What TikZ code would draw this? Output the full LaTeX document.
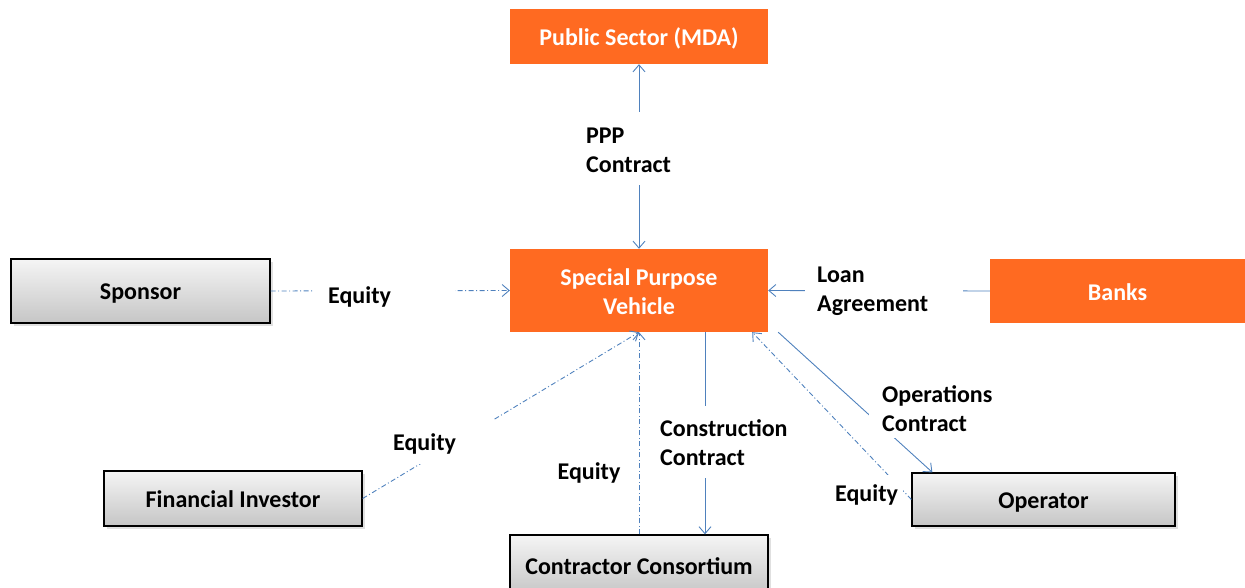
\documentclass[tikz,border=0pt]{standalone}
\usepackage{fontspec}
\setmainfont{Carlito}
\usetikzlibrary{arrows.meta,shadows}
\definecolor{orng}{HTML}{FF6A21}
\definecolor{lnblue}{HTML}{4F81BD}
\newcommand{\mystrut}{\rule[-3pt]{0pt}{24pt}}
\begin{document}
\begin{tikzpicture}[x=1pt,y=-1pt,
  every node/.style={font=\fontsize{24}{29}\selectfont\bfseries},
  >={Straight Barb[length=7pt,width=12pt]},
  orangebox/.style={fill=orng,text=white,inner sep=0pt,align=center},
  graybox/.style={draw=black,line width=1.3pt,top color=gray!8,bottom color=gray!45,
    drop shadow={shadow xshift=2.5pt,shadow yshift=-2.5pt,fill=gray!40,opacity=0.6},inner sep=0pt},
  conn/.style={draw=lnblue,line width=0.9pt,->},
  dashdot/.style={dash pattern=on 5pt off 2.5pt on 1pt off 2.5pt},
  lbl/.style={fill=white,inner ysep=0pt,align=left}]
\clip (0,0) rectangle (1245,588);
% boxes
\node[orangebox,minimum width=258pt,minimum height=55pt] (ps) at (639,36.5) {\mystrut Public Sector (MDA)};
\node[orangebox,minimum width=258pt,minimum height=83pt] (spv) at (639,290.5) {\mystrut Special Purpose\\\mystrut Vehicle};
\node[orangebox,minimum width=255pt,minimum height=64pt] (bk) at (1117.5,291) {\mystrut Banks};
\node[graybox,minimum width=259pt,minimum height=64pt] (sp) at (140.5,291) {\mystrut Sponsor};
\node[graybox,minimum width=258pt,minimum height=55pt] (fi) at (233,498.5) {\mystrut Financial Investor};
\node[graybox,minimum width=258pt,minimum height=60pt] (cc) at (639,565) {\mystrut Contractor Consortium};
\node[graybox,minimum width=263pt,minimum height=53pt] (op) at (1043.5,499.5) {\mystrut Operator};
% connectors
\draw[conn,<->] (spv.north) -- (ps.south);
\draw[conn,dashdot] (sp.east) -- (spv.west);
\draw[conn] (bk.west) -- (spv.east);
\draw[conn,dashdot] (fi.east) -- (spv.south);
\draw[conn,dashdot] (cc.north) -- (spv.south);
\draw[conn] ([xshift=66pt]spv.south) -- ([xshift=66pt]cc.north);
\draw[conn] ([xshift=10pt]spv.south east) -- ([xshift=21pt]op.north west);
\draw[conn,dashdot] (op.west) -- ([xshift=-16pt]spv.south east);
% labels
\node[lbl,anchor=west,inner xsep=15pt,text width=112pt,minimum height=30pt] (l1) at (313,295) {\mystrut Equity};
\node[lbl,anchor=west,inner xsep=12pt,text width=134pt,minimum height=62pt] (l2) at (805,289) {\mystrut Loan\\\mystrut Agreement};
\node[lbl,anchor=west,inner xsep=2pt,text width=90pt,minimum height=73pt] (l3) at (584,149) {\mystrut PPP\\\mystrut Contract};
\node[lbl,anchor=west,inner xsep=2pt,text width=130pt,minimum height=72pt] (l4) at (658,442) {\mystrut Construction\\\mystrut Contract};
\node[lbl,anchor=west,inner xsep=5pt,text width=99pt,minimum height=44pt] (l5) at (388,441.5) {\mystrut Equity};
\node[lbl,anchor=west,inner xsep=13pt,text width=115pt,minimum height=60pt] (l6) at (869,408) {\mystrut Operations\\\mystrut Contract};
\node[lbl,anchor=west,inner xsep=5pt,text width=63pt,minimum height=36pt] (l7) at (830,492.5) {\mystrut Equity};
\node (l8) at (589,470.5) {\mystrut Equity};
\end{tikzpicture}
\end{document}
